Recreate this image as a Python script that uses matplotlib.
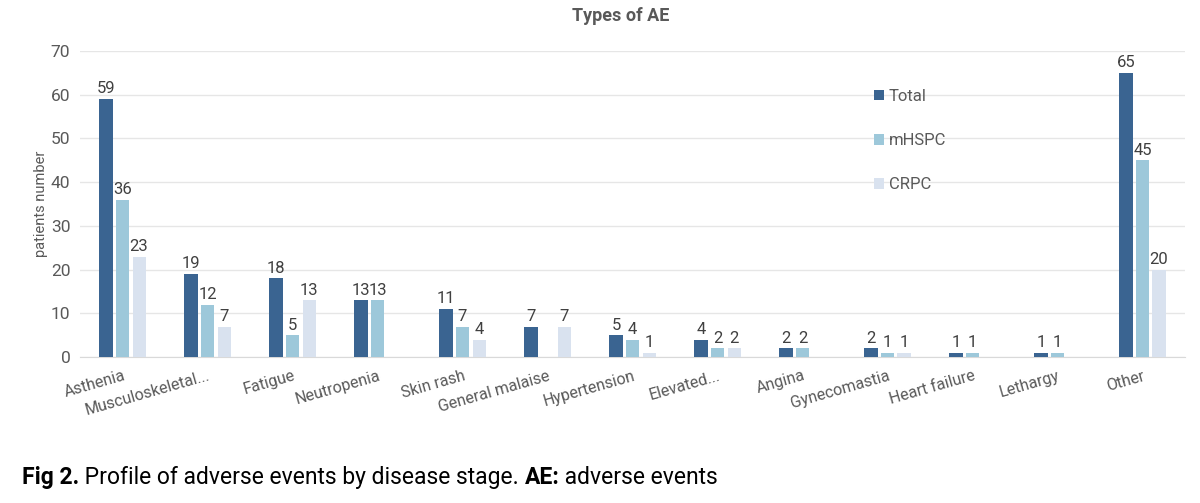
import matplotlib
matplotlib.use("Agg")
import matplotlib.pyplot as plt
import numpy as np

categories = ["Asthenia", "Musculoskeletal...", "Fatigue", "Neutropenia", "Skin rash",
              "General malaise", "Hypertension", "Elevated...", "Angina", "Gynecomastia",
              "Heart failure", "Lethargy", "Other"]
total = [59, 19, 18, 13, 11, 7, 5, 4, 2, 2, 1, 1, 65]
mhspc = [36, 12, 5, 13, 7, 0, 4, 2, 2, 1, 1, 1, 45]
crpc = [23, 7, 13, 0, 4, 7, 1, 2, 0, 1, 0, 0, 20]
series_names = ["Total", "mHSPC", "CRPC"]
colors = ["#3A6491", "#9DC8DA", "#D9E2EF"]

plt.rcParams['font.family'] = ['Roboto', 'DejaVu Sans']
txt = "#595959"

fig = plt.figure(figsize=(12, 5.03), dpi=100)
ax = fig.add_axes([0.0667, 0.290, 0.9208, 0.6086])

x = np.arange(len(categories))
w = 0.155
step = 0.195
for i, (vals, name, c) in enumerate(zip([total, mhspc, crpc], series_names, colors)):
    pos = x + (i - 1) * step
    ax.bar(pos, vals, width=w, color=c, label=name, zorder=3)
    for xp, v in zip(pos, vals):
        if v > 0:
            ax.text(xp, v + 0.6, str(v), ha='center', va='bottom', fontsize=12, color="#404040")

ax.set_xlim(-0.5, len(categories) - 0.5)
ax.set_ylim(0, 70)
ax.set_yticks(range(0, 71, 10))
ax.set_xticks(x)
ax.set_xticklabels(categories, rotation=16, ha='right', rotation_mode='anchor', fontsize=11.5, color=txt)
ax.tick_params(axis='y', labelsize=12.5, colors=txt, length=0, pad=7)
ax.tick_params(axis='x', length=0, pad=8)
ax.grid(axis='y', color='#E6E6E6', linewidth=1, zorder=0)
for s in ['top', 'right', 'left']:
    ax.spines[s].set_visible(False)
ax.spines['bottom'].set_color('#D9D9D9')
ax.set_ylabel("patients number", fontsize=10.5, color=txt, labelpad=2)

leg = ax.legend(loc='upper left', bbox_to_anchor=(0.705, 0.925), frameon=False, fontsize=12,
                labelspacing=1.75, handlelength=0.6, handleheight=0.6, handletextpad=0.3)
for t in leg.get_texts():
    t.set_color(txt)

fig.text(0.517, 0.968, "Types of AE", ha='center', va='center', fontsize=13, fontweight='bold', color=txt)

# caption built from pieces placed one after another
pieces = [("Fig 2.", 'bold'), (" Profile of adverse events by disease stage. ", 'normal'),
          ("AE:", 'bold'), (" adverse events", 'normal')]
fig.canvas.draw()
renderer = fig.canvas.get_renderer()
xpix = 22
ypos = 0.05
for s, wgt in pieces:
    t = fig.text(xpix / 1200, ypos, s, ha='left', va='center', fontsize=16.5, fontweight=wgt,
                 color='black')
    bb = t.get_window_extent(renderer=renderer)
    xpix += bb.width

fig.savefig("out.png", dpi=100)
